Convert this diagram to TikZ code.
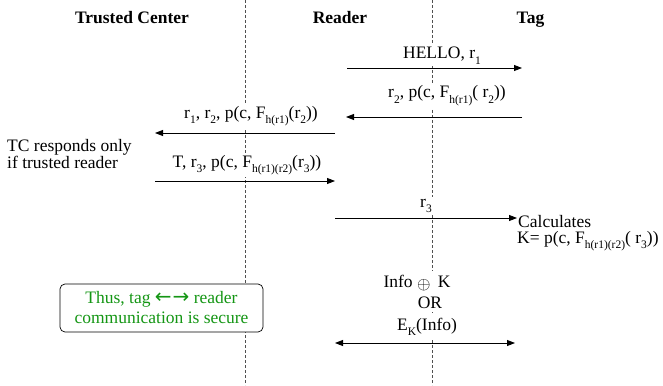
\documentclass[tikz,border=0pt]{standalone}
\usepackage{fontspec}
\setmainfont{Liberation Serif}
\newfontfamily\symfont{DejaVu Sans}
\usetikzlibrary{arrows.meta}
\definecolor{msggreen}{RGB}{20,150,20}
\definecolor{lifegray}{RGB}{80,80,80}
\newcommand{\sbx}[1]{\raisebox{-0.3em}{\fontsize{11.5}{12}\selectfont #1}}
\begin{document}
\begin{tikzpicture}[x=1pt,y=-1pt,
  ttl/.style={font=\rmfamily\fontsize{17.5}{21}\selectfont\bfseries, anchor=base, inner sep=0pt},
  lbl/.style={fill=white, inner xsep=1pt, inner ysep=2pt, font=\rmfamily\fontsize{17.5}{21}\selectfont, anchor=base},
  plain/.style={inner sep=0pt, font=\rmfamily\fontsize{17.5}{21}\selectfont, anchor=base west},
  msg/.style={-{Triangle[length=8pt,width=6pt]}, line width=0.9pt},
  dmsg/.style={{Triangle[length=8pt,width=6pt]}-{Triangle[length=8pt,width=6pt]}, line width=0.9pt},
  life/.style={lifegray, line width=0.6pt, dash pattern=on 3pt off 2pt},
  notebox/.style={draw, rounded corners=5pt, fill=white, line width=0.7pt, text=msggreen,
    align=center, minimum width=203pt, minimum height=48pt, inner sep=0pt,
    font=\rmfamily\fontsize{17.5}{20}\selectfont}]
\useasboundingbox (0,0) rectangle (663,385);
\fill[white] (0,0) rectangle (663,385);

% lifelines
\coordinate (l1t) at (245,0);
\coordinate (l1b) at (245,385);
\coordinate (l2t) at (432,0);
\coordinate (l2b) at (432,385);
\draw[life] (l1t) -- (l1b);
\draw[life] (l2t) -- (l2b);

% titles
\node[ttl] (tc) at (132,24) {Trusted Center};
\node[ttl] (rd) at (340,24) {Reader};
\node[ttl] (tg) at (530.5,24) {Tag};

% message 1
\coordinate (m1s) at (347,68);
\coordinate (m1e) at (522,68);
\draw[msg] (m1s) -- (m1e);
\node[lbl] (t1) at (442,59) {HELLO, r\sbx{1}};

% message 2
\coordinate (m2s) at (522,117);
\coordinate (m2e) at (346,117);
\draw[msg] (m2s) -- (m2e);
\node[lbl] (t2) at (447,98) {r\sbx{2}, p(c, F\sbx{h(r1)}( r\sbx{2}))};

% message 3
\coordinate (m3s) at (335,133);
\coordinate (m3e) at (155,133);
\draw[msg] (m3s) -- (m3e);
\node[lbl] (t3) at (251,118) {r\sbx{1}, r\sbx{2}, p(c, F\sbx{h(r1)}(r\sbx{2}))};

% TC note
\node[plain] (n1) at (7,151) {TC responds only};
\node[plain] (n2) at (7,168) {if trusted reader};

% message 4
\coordinate (m4s) at (155,181);
\coordinate (m4e) at (335,181);
\draw[msg] (m4s) -- (m4e);
\node[lbl] (t4) at (247,167) {T, r\sbx{3}, p(c, F\sbx{h(r1)(r2)}(r\sbx{3}))};

% message 5
\coordinate (m5s) at (335,218);
\coordinate (m5e) at (517,218);
\draw[msg] (m5s) -- (m5e);
\node[lbl] (t5) at (426,207) {r\sbx{3}};
\node[plain] (c1) at (518,227) {Calculates};
\node[plain] (c2) at (517,243) {K= p(c, F\sbx{h(r1)(r2)}( r\sbx{3}))};

% message 6
\node[lbl, inner ysep=4pt] (i1) at (417,287) {Info \raisebox{-0.15em}{$\oplus$} \,K};
\node[lbl, inner ysep=4pt] (i2) at (430,308) {OR};
\node[lbl, inner ysep=4pt] (i3) at (427,330) {E\sbx{K}(Info)};
\coordinate (m6s) at (335,343);
\coordinate (m6e) at (515,343);
\draw[dmsg] (m6s) -- (m6e);

% conclusion box
\node[notebox] (box) at (161.5,308) {Thus, tag {\symfont\fontsize{20}{20}\selectfont ←\kern1pt→} reader\\communication is secure};
\end{tikzpicture}
\end{document}
